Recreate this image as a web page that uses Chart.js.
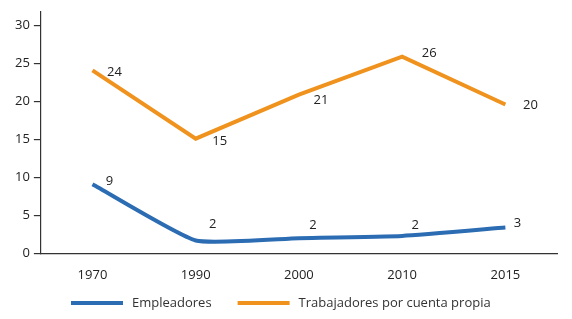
<!DOCTYPE html>
<html>
<head>
<meta charset="utf-8">
<script src="https://cdn.jsdelivr.net/npm/chart.js@4"></script>
<style>
  html, body { margin: 0; padding: 0; background: #fff; }
  #wrap { width: 572px; height: 319px; position: relative; }
</style>
</head>
<body>
<div id="wrap"><canvas id="chart"></canvas></div>
<script>
// Data
const years = ["1970", "1990", "2000", "2010", "2015"];
const empleadores = [9.1, 1.7, 2.0, 2.3, 3.4];
const cuentaPropia = [24.1, 15.1, 20.9, 25.9, 19.6];
const yTicks = [0, 5, 10, 15, 20, 25, 30];

const BLUE = "#2b6cb3";
const ORANGE = "#f0931e";
const FONT = "'Open Sans', 'Noto Sans', sans-serif";

// Draw rounded value next to every point (offsets per point, in px)
const valueLabels = {
  id: "valueLabels",
  afterDatasetsDraw(chart, args, opts) {
    const ctx = chart.ctx;
    ctx.save();
    ctx.font = "13px " + FONT;
    ctx.fillStyle = "#222";
    ctx.textAlign = "center";
    ctx.textBaseline = "middle";
    chart.data.datasets.forEach((ds, i) => {
      const meta = chart.getDatasetMeta(i);
      const offs = opts.offsets[i];
      meta.data.forEach((pt, j) => {
        ctx.fillText(String(Math.round(ds.data[j])), pt.x + offs[j][0], pt.y + offs[j][1]);
      });
    });
    ctx.restore();
  }
};

// Simple line-sample legend under the axis
const bottomLegend = {
  id: "bottomLegend",
  afterDraw(chart, args, opts) {
    const ctx = chart.ctx;
    ctx.save();
    ctx.font = "13px " + FONT;
    ctx.textBaseline = "middle";
    let x = opts.x;
    const y = opts.y;
    chart.data.datasets.forEach((ds) => {
      ctx.fillStyle = ds.borderColor;
      ctx.fillRect(x, y - 2, opts.boxWidth, 4);
      x += opts.boxWidth + opts.textGap;
      ctx.fillStyle = "#333";
      ctx.fillText(ds.label, x, y);
      x += ctx.measureText(ds.label).width + opts.itemGap;
    });
    ctx.restore();
  }
};

const ctx = document.getElementById("chart").getContext("2d");
new Chart(ctx, {
  type: "line",
  data: {
    labels: years,
    datasets: [
      {
        label: "Empleadores",
        data: empleadores,
        borderColor: BLUE,
        backgroundColor: BLUE,
        borderWidth: 4,
        pointRadius: 0,
        tension: 0.15,
        borderCapStyle: "butt",
      },
      {
        label: "Trabajadores por cuenta propia",
        data: cuentaPropia,
        borderColor: ORANGE,
        backgroundColor: ORANGE,
        borderWidth: 4,
        pointRadius: 0,
        tension: 0,
        borderJoinStyle: "miter",
        borderCapStyle: "butt",
      },
    ],
  },
  options: {
    responsive: true,
    maintainAspectRatio: false,
    animation: false,
    layout: { padding: { left: 11, right: 15, top: 0, bottom: 30 } },
    plugins: {
      tooltip: { enabled: false },
      legend: { display: false },
      valueLabels: {
        offsets: [
          [[17, -3], [17, -16], [14, -13], [13, -11], [12, -4]],
          [[22, 2], [24, 3], [22, 6], [27, -3], [25, 1]],
        ],
      },
      bottomLegend: { x: 71, y: 303, boxWidth: 52, textGap: 9, itemGap: 26 },
    },
    scales: {
      x: {
        offset: true,
        grid: { display: false },
        border: { display: true, color: "#333", width: 1.2 },
        ticks: { color: "#222", font: { family: FONT, size: 13 }, padding: 6 },
      },
      y: {
        min: 0,
        max: 31.8,
        grid: { display: true, drawOnChartArea: false, color: "#333", tickLength: 7, lineWidth: 1.2 },
        border: { display: true, color: "#333", width: 1.2 },
        ticks: { color: "#222", font: { family: FONT, size: 13 }, padding: 4, autoSkip: false },
        afterBuildTicks(axis) {
          axis.ticks = yTicks.map((v) => ({ value: v }));
        },
      },
    },
  },
  plugins: [valueLabels, bottomLegend],
});
</script>
</body>
</html>
